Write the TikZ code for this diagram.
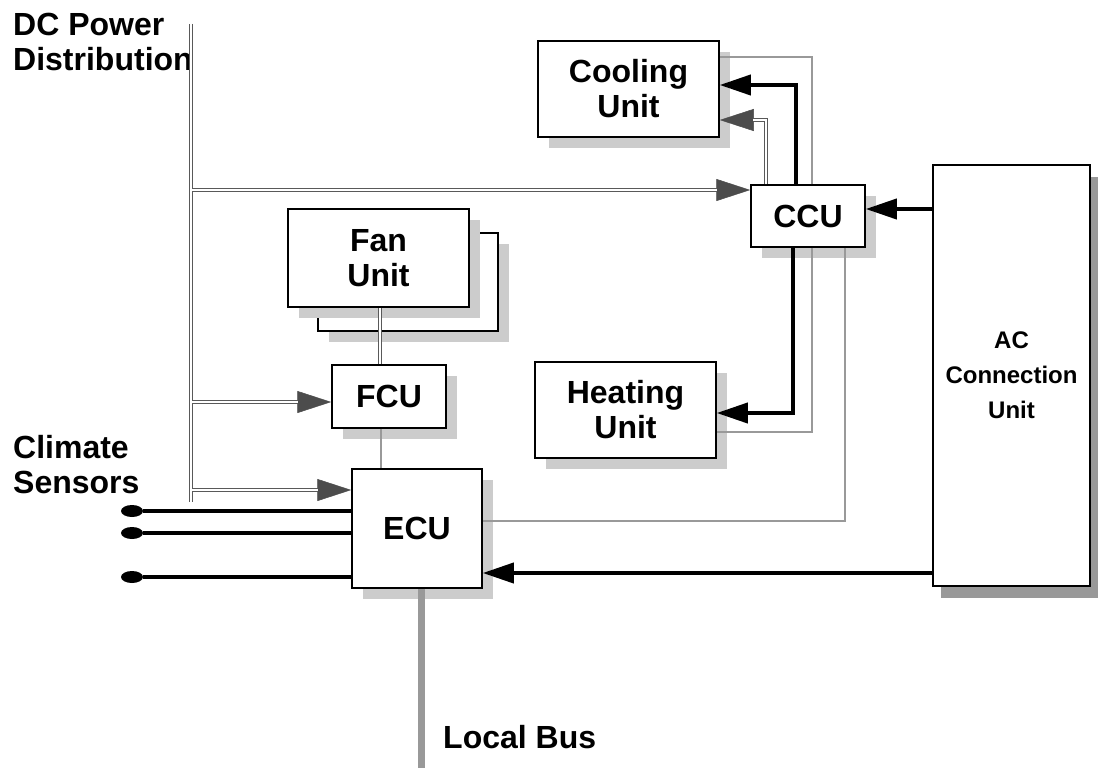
\documentclass[tikz,border=0pt]{standalone}
\usepackage{fontspec}
\setmainfont{Liberation Sans}
\usetikzlibrary{arrows.meta,shadows,shapes.geometric}
\begin{document}
\begin{tikzpicture}[x=1pt,y=-1pt,
  lbl/.style={font=\fontsize{32}{35}\selectfont\bfseries},
  boxbase/.style={draw=black, line width=1.5pt, fill=white, inner sep=0pt, align=center, lbl},
  box/.style={boxbase, general shadow={fill=black!20, shadow xshift=11pt, shadow yshift=-11pt}},
  acbox/.style={boxbase, font=\fontsize{24}{35}\selectfont\bfseries, general shadow={fill=black!40, shadow xshift=8pt, shadow yshift=-12pt}},
  dbl/.style={draw=black!65, line width=1.4pt, double=white, double distance=1.2pt},
  gtip/.style={draw=white, line width=0.5pt, -{Triangle[length=34pt,width=22pt,color=black!70]}},
  blk/.style={draw=black, line width=3.8pt, -{Triangle[length=31pt,width=20pt]}},
  gry/.style={draw=black!40, line width=1.3pt},
  bus/.style={draw=black!40, line width=7pt},
  sline/.style={draw=black, line width=3.8pt},
  sensor/.style={ellipse, fill=black, minimum width=22pt, minimum height=12pt, inner sep=0pt}
]
\useasboundingbox (0,0) rectangle (1108,768);

% labels
\node[lbl, anchor=north west, inner sep=0pt, align=left] (dclbl) at (13,13) {DC Power\\Distribution};
\node[lbl, anchor=north west, inner sep=0pt, align=left] (cslbl) at (13,435) {Climate\\Sensors};
\node[lbl, anchor=base west, inner sep=0pt] (lblbl) at (443,748) {Local Bus};

% boxes
\node[box, minimum width=181pt, minimum height=96pt] (cool) at (628.5,89) {Cooling\\Unit};
\node[box, minimum width=114pt, minimum height=62pt] (ccu) at (808,216) {CCU};
\node[box, minimum width=180pt, minimum height=98pt] (fanb) at (408,282) {};
\node[box, minimum width=181pt, minimum height=98pt] (fanf) at (378.5,258) {Fan\\Unit};
\node[box, minimum width=114pt, minimum height=63pt] (fcu) at (389,396.5) {FCU};
\node[box, minimum width=181pt, minimum height=96pt] (heat) at (625.5,410) {Heating\\Unit};
\node[box, minimum width=130pt, minimum height=119pt] (ecu) at (417,528.5) {ECU};
\node[acbox, minimum width=157pt, minimum height=421pt] (ac) at (1011.5,375.5) {AC\\Connection\\Unit};

% DC bus
\coordinate (dtop) at (191,24);
\coordinate (dbot) at (191,502);
\draw[dbl] (dtop) -- (dbot);
\coordinate (d1) at (192,190);
\coordinate (d2) at (192,402);
\coordinate (d3) at (192,490);
\draw[gtip] (d1) -- (ccu.west |- d1);
\draw[dbl, shorten >=33pt] (d1) -- (ccu.west |- d1);
\draw[gtip] (d2) -- (fcu.west |- d2);
\draw[dbl, shorten >=33pt] (d2) -- (fcu.west |- d2);
\draw[gtip] (d3) -- (ecu.west |- d3);
\draw[dbl, shorten >=33pt] (d3) -- (ecu.west |- d3);

% CCU to cooling
\coordinate (kc) at (796,85);
\coordinate (dc) at (766,120);
\coordinate (gc) at (812,57);
\draw[gry] (ccu.north -| gc) |- (cool.east |- gc);
\draw[gtip] (ccu.north -| dc) |- (cool.east |- dc);
\draw[dbl, shorten >=33pt] (ccu.north -| dc) |- (cool.east |- dc);
\draw[blk] (ccu.north -| kc) |- (cool.east |- kc);

% CCU to heating / ECU
\coordinate (kh) at (793,413);
\coordinate (gh) at (812,432);
\coordinate (ge) at (845,521);
\draw[gry] (ccu.south -| gh) |- (heat.east |- gh);
\draw[gry] (ccu.south -| ge) |- (ecu.east |- ge);
\draw[blk] (ccu.south -| kh) |- (heat.east |- kh);

% AC connections
\coordinate (ya) at (0,209);
\coordinate (yb) at (0,573);
\draw[blk] (ac.west |- ya) -- (ccu.east |- ya);
\draw[blk] (ac.west |- yb) -- (ecu.east |- yb);

% fan / fcu / ecu
\coordinate (xf) at (380,0);
\coordinate (xe) at (381,0);
\draw[dbl] (fanf.south -| xf) -- (fcu.north -| xf);
\draw[gry] (fcu.south -| xe) -- (ecu.north -| xe);

% local bus
\coordinate (lb) at (421,768);
\draw[bus] (ecu.south -| lb) -- (lb);

% sensors
\node[sensor] (s1) at (132,511) {};
\node[sensor] (s2) at (132,533) {};
\node[sensor] (s3) at (132,577) {};
\draw[sline] (s1) -- (s1 -| ecu.west);
\draw[sline] (s2) -- (s2 -| ecu.west);
\draw[sline] (s3) -- (s3 -| ecu.west);
\end{tikzpicture}
\end{document}
